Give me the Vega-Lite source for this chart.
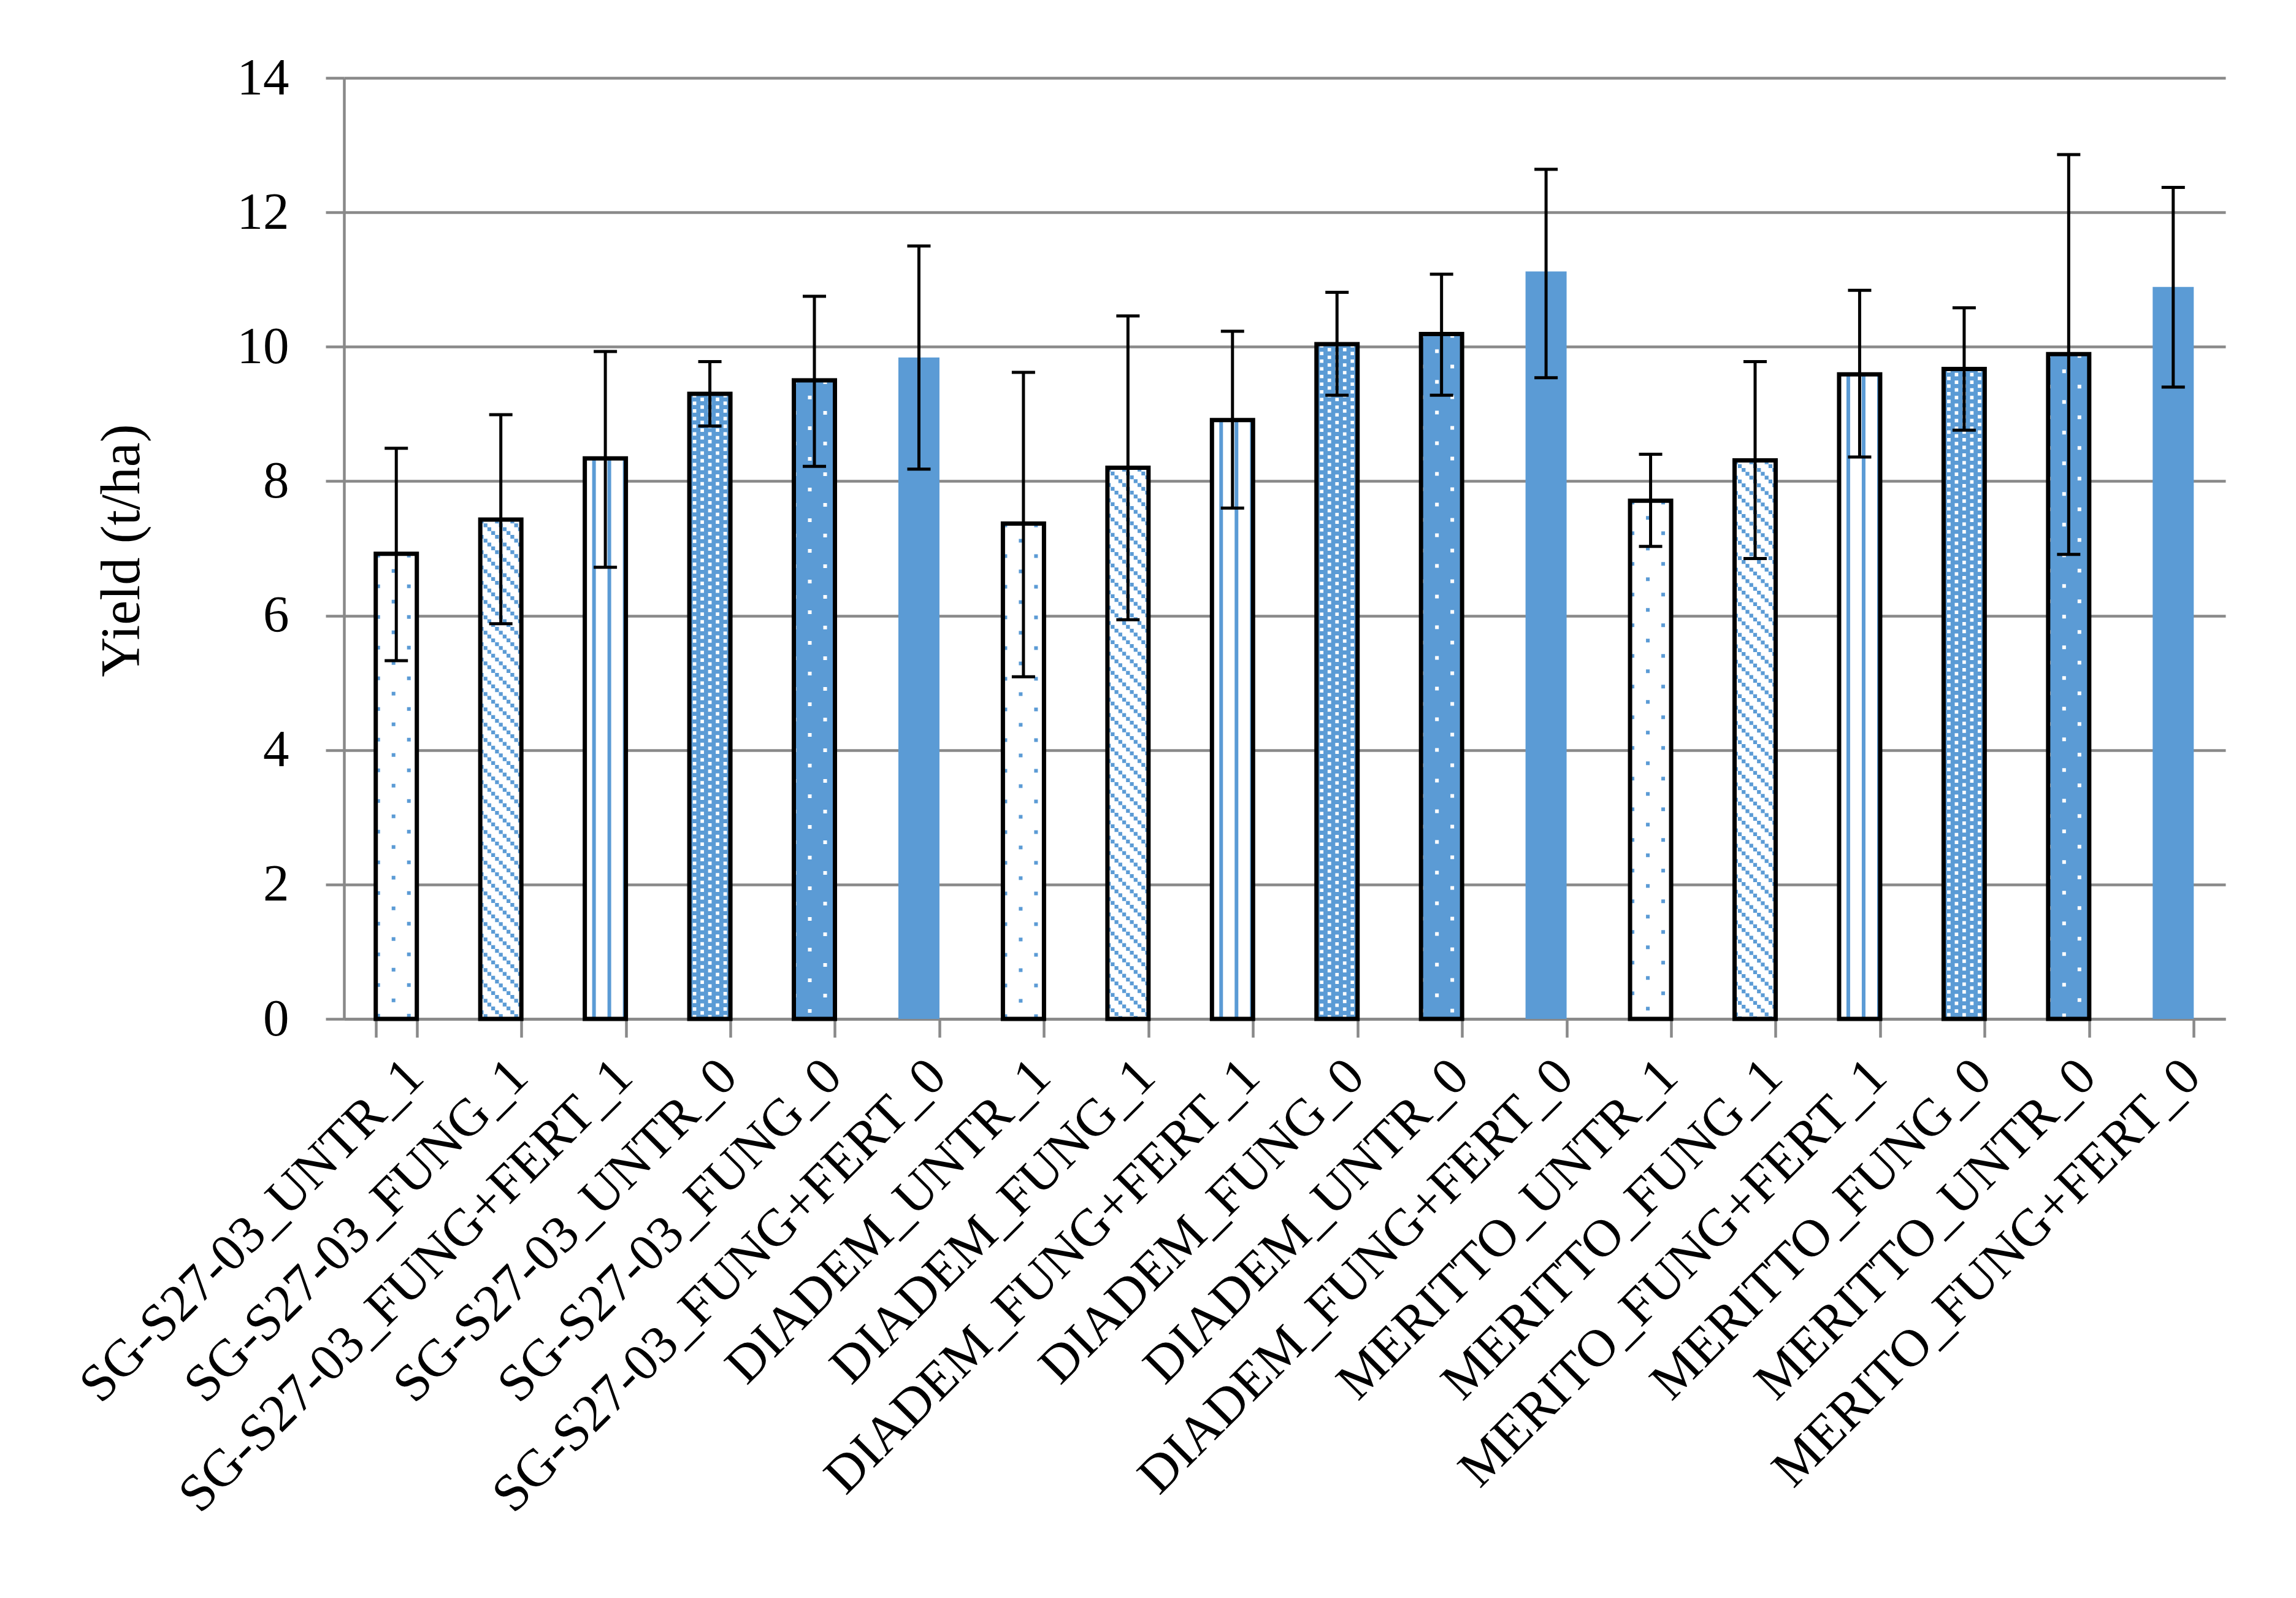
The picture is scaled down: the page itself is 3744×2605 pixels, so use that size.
{
  "$schema": "https://vega.github.io/schema/vega-lite/v6.json",
  "width": 3068,
  "height": 1534,
  "autosize": "none",
  "padding": {"left": 561, "top": 127, "right": 115, "bottom": 944},
  "background": "white",
  "config": {"view": {"stroke": null}, "font": "Liberation Serif"},
  "data": {"values": [
    {"label": "SG-S27-03_UNTR_1", "series": 1, "yield": 6.92, "lo": 5.33, "hi": 8.49},
    {"label": "SG-S27-03_FUNG_1", "series": 2, "yield": 7.43, "lo": 5.88, "hi": 8.99},
    {"label": "SG-S27-03_FUNG+FERT_1", "series": 3, "yield": 8.34, "lo": 6.72, "hi": 9.93},
    {"label": "SG-S27-03_UNTR_0", "series": 4, "yield": 9.30, "lo": 8.82, "hi": 9.78},
    {"label": "SG-S27-03_FUNG_0", "series": 5, "yield": 9.50, "lo": 8.22, "hi": 10.75},
    {"label": "SG-S27-03_FUNG+FERT_0", "series": 6, "yield": 9.84, "lo": 8.18, "hi": 11.50},
    {"label": "DIADEM_UNTR_1", "series": 1, "yield": 7.37, "lo": 5.09, "hi": 9.62},
    {"label": "DIADEM_FUNG_1", "series": 2, "yield": 8.20, "lo": 5.94, "hi": 10.46},
    {"label": "DIADEM_FUNG+FERT_1", "series": 3, "yield": 8.91, "lo": 7.60, "hi": 10.23},
    {"label": "DIADEM_FUNG_0", "series": 4, "yield": 10.04, "lo": 9.28, "hi": 10.81},
    {"label": "DIADEM_UNTR_0", "series": 5, "yield": 10.19, "lo": 9.28, "hi": 11.08},
    {"label": "DIADEM_FUNG+FERT_0", "series": 6, "yield": 11.12, "lo": 9.54, "hi": 12.64},
    {"label": "MERITTO_UNTR_1", "series": 1, "yield": 7.71, "lo": 7.03, "hi": 8.40},
    {"label": "MERITTO_FUNG_1", "series": 2, "yield": 8.31, "lo": 6.85, "hi": 9.78},
    {"label": "MERITO_FUNG+FERT_1", "series": 3, "yield": 9.59, "lo": 8.36, "hi": 10.84},
    {"label": "MERITTO_FUNG_0", "series": 4, "yield": 9.67, "lo": 8.76, "hi": 10.58},
    {"label": "MERITTO_UNTR_0", "series": 5, "yield": 9.89, "lo": 6.91, "hi": 12.86},
    {"label": "MERITO_FUNG+FERT_0", "series": 6, "yield": 10.89, "lo": 9.40, "hi": 12.37}
  ]},
  "encoding": {
    "x": {
      "field": "label", "type": "nominal", "sort": null,
      "scale": {"paddingInner": 0.607, "paddingOuter": 0.3035},
      "axis": {
        "title": null, "labelAngle": -45, "labelFont": "Liberation Serif", "labelFontSize": 86,
        "labelColor": "black", "labelLimit": 3000, "labelPadding": 20,
        "tickBand": "extent", "tickSize": 30, "tickWidth": 4.5, "tickColor": "#898989",
        "domainColor": "#898989", "domainWidth": 4.5, "grid": false
      }
    },
    "y": {
      "field": "yield", "type": "quantitative",
      "scale": {"domain": [0, 14], "nice": false},
      "axis": {
        "title": "Yield (t/ha)", "values": [0, 2, 4, 6, 8, 10, 12, 14],
        "labelFont": "Liberation Serif", "labelFontSize": 85, "labelColor": "black", "labelPadding": 60,
        "grid": true, "gridColor": "#898989", "gridWidth": 4.5,
        "domainColor": "#898989", "domainWidth": 4.5,
        "tickColor": "#898989", "tickWidth": 4.5, "tickSize": 30,
        "titleFont": "Liberation Serif", "titleFontSize": 90, "titleFontWeight": "normal", "titleColor": "black",
        "titleAngle": -90, "titleAlign": "center", "titleBaseline": "middle", "titleX": -362, "titleY": 770
      }
    }
  },
  "layer": [
    {"mark": {"type": "bar", "strokeWidth": 0},
     "encoding": {"fill": {"condition": {"test": "datum.series <= 3", "value": "white"}, "value": "#5B9BD5"}}},

    {"transform": [{"filter": "datum.series == 1"}], "mark": {"type": "rule", "color": "#5B9BD5", "strokeWidth": 6, "strokeDash": [6, 44], "strokeDashOffset": 0, "xOffset": -29.5}, "encoding": {"y2": {"datum": 0}}},
    {"transform": [{"filter": "datum.series == 1"}], "mark": {"type": "rule", "color": "#5B9BD5", "strokeWidth": 6, "strokeDash": [6, 44], "strokeDashOffset": 25, "xOffset": -4.5}, "encoding": {"y2": {"datum": 0}}},
    {"transform": [{"filter": "datum.series == 1"}], "mark": {"type": "rule", "color": "#5B9BD5", "strokeWidth": 6, "strokeDash": [6, 44], "strokeDashOffset": 0, "xOffset": 20.5}, "encoding": {"y2": {"datum": 0}}},

    {"transform": [{"filter": "datum.series == 2"}], "mark": {"type": "rule", "color": "#5B9BD5", "strokeWidth": 6.25, "strokeDash": [6.25, 18.75], "strokeDashOffset": 0, "xOffset": -31.25}, "encoding": {"y2": {"datum": 0}}},
    {"transform": [{"filter": "datum.series == 2"}], "mark": {"type": "rule", "color": "#5B9BD5", "strokeWidth": 6.25, "strokeDash": [6.25, 18.75], "strokeDashOffset": 18.75, "xOffset": -25}, "encoding": {"y2": {"datum": 0}}},
    {"transform": [{"filter": "datum.series == 2"}], "mark": {"type": "rule", "color": "#5B9BD5", "strokeWidth": 6.25, "strokeDash": [6.25, 18.75], "strokeDashOffset": 12.5, "xOffset": -18.75}, "encoding": {"y2": {"datum": 0}}},
    {"transform": [{"filter": "datum.series == 2"}], "mark": {"type": "rule", "color": "#5B9BD5", "strokeWidth": 6.25, "strokeDash": [6.25, 18.75], "strokeDashOffset": 6.25, "xOffset": -12.5}, "encoding": {"y2": {"datum": 0}}},
    {"transform": [{"filter": "datum.series == 2"}], "mark": {"type": "rule", "color": "#5B9BD5", "strokeWidth": 6.25, "strokeDash": [6.25, 18.75], "strokeDashOffset": 0, "xOffset": -6.25}, "encoding": {"y2": {"datum": 0}}},
    {"transform": [{"filter": "datum.series == 2"}], "mark": {"type": "rule", "color": "#5B9BD5", "strokeWidth": 6.25, "strokeDash": [6.25, 18.75], "strokeDashOffset": 18.75, "xOffset": 0}, "encoding": {"y2": {"datum": 0}}},
    {"transform": [{"filter": "datum.series == 2"}], "mark": {"type": "rule", "color": "#5B9BD5", "strokeWidth": 6.25, "strokeDash": [6.25, 18.75], "strokeDashOffset": 12.5, "xOffset": 6.25}, "encoding": {"y2": {"datum": 0}}},
    {"transform": [{"filter": "datum.series == 2"}], "mark": {"type": "rule", "color": "#5B9BD5", "strokeWidth": 6.25, "strokeDash": [6.25, 18.75], "strokeDashOffset": 6.25, "xOffset": 12.5}, "encoding": {"y2": {"datum": 0}}},
    {"transform": [{"filter": "datum.series == 2"}], "mark": {"type": "rule", "color": "#5B9BD5", "strokeWidth": 6.25, "strokeDash": [6.25, 18.75], "strokeDashOffset": 0, "xOffset": 18.75}, "encoding": {"y2": {"datum": 0}}},
    {"transform": [{"filter": "datum.series == 2"}], "mark": {"type": "rule", "color": "#5B9BD5", "strokeWidth": 6.25, "strokeDash": [6.25, 18.75], "strokeDashOffset": 18.75, "xOffset": 25}, "encoding": {"y2": {"datum": 0}}},
    {"transform": [{"filter": "datum.series == 2"}], "mark": {"type": "rule", "color": "#5B9BD5", "strokeWidth": 6.25, "strokeDash": [6.25, 18.75], "strokeDashOffset": 12.5, "xOffset": 31.25}, "encoding": {"y2": {"datum": 0}}},

    {"transform": [{"filter": "datum.series == 3"}], "mark": {"type": "rule", "color": "#5B9BD5", "strokeWidth": 6, "xOffset": -18.5}, "encoding": {"y2": {"datum": 0}}},
    {"transform": [{"filter": "datum.series == 3"}], "mark": {"type": "rule", "color": "#5B9BD5", "strokeWidth": 6, "xOffset": 6.5}, "encoding": {"y2": {"datum": 0}}},
    {"transform": [{"filter": "datum.series == 3"}], "mark": {"type": "rule", "color": "#5B9BD5", "strokeWidth": 6, "xOffset": 31.5}, "encoding": {"y2": {"datum": 0}}},

    {"transform": [{"filter": "datum.series == 4"}], "mark": {"type": "rule", "color": "white", "strokeWidth": 5.7, "strokeDash": [5.7, 6.8], "strokeDashOffset": 0, "xOffset": -25}, "encoding": {"y2": {"datum": 0}}},
    {"transform": [{"filter": "datum.series == 4"}], "mark": {"type": "rule", "color": "white", "strokeWidth": 5.7, "strokeDash": [5.7, 6.8], "strokeDashOffset": 6.25, "xOffset": -12.5}, "encoding": {"y2": {"datum": 0}}},
    {"transform": [{"filter": "datum.series == 4"}], "mark": {"type": "rule", "color": "white", "strokeWidth": 5.7, "strokeDash": [5.7, 6.8], "strokeDashOffset": 0, "xOffset": 0}, "encoding": {"y2": {"datum": 0}}},
    {"transform": [{"filter": "datum.series == 4"}], "mark": {"type": "rule", "color": "white", "strokeWidth": 5.7, "strokeDash": [5.7, 6.8], "strokeDashOffset": 6.25, "xOffset": 12.5}, "encoding": {"y2": {"datum": 0}}},
    {"transform": [{"filter": "datum.series == 4"}], "mark": {"type": "rule", "color": "white", "strokeWidth": 5.7, "strokeDash": [5.7, 6.8], "strokeDashOffset": 0, "xOffset": 25}, "encoding": {"y2": {"datum": 0}}},

    {"transform": [{"filter": "datum.series == 5"}], "mark": {"type": "rule", "color": "white", "strokeWidth": 6, "strokeDash": [6, 44], "strokeDashOffset": 0, "xOffset": -32.5}, "encoding": {"y2": {"datum": 0}}},
    {"transform": [{"filter": "datum.series == 5"}], "mark": {"type": "rule", "color": "white", "strokeWidth": 6, "strokeDash": [6, 44], "strokeDashOffset": 25, "xOffset": -7.5}, "encoding": {"y2": {"datum": 0}}},
    {"transform": [{"filter": "datum.series == 5"}], "mark": {"type": "rule", "color": "white", "strokeWidth": 6, "strokeDash": [6, 44], "strokeDashOffset": 0, "xOffset": 17.5}, "encoding": {"y2": {"datum": 0}}},

    {"transform": [{"filter": "datum.series <= 5"}], "mark": {"type": "bar", "fill": "transparent", "stroke": "black", "strokeWidth": 7}},

    {"mark": {"type": "rule", "color": "black", "strokeWidth": 5},
     "encoding": {"y": {"field": "lo", "type": "quantitative"}, "y2": {"field": "hi"}}},
    {"mark": {"type": "tick", "color": "black", "thickness": 5, "size": 38, "opacity": 1},
     "encoding": {"y": {"field": "lo", "type": "quantitative"}}},
    {"mark": {"type": "tick", "color": "black", "thickness": 5, "size": 38, "opacity": 1},
     "encoding": {"y": {"field": "hi", "type": "quantitative"}}}
  ]
}
